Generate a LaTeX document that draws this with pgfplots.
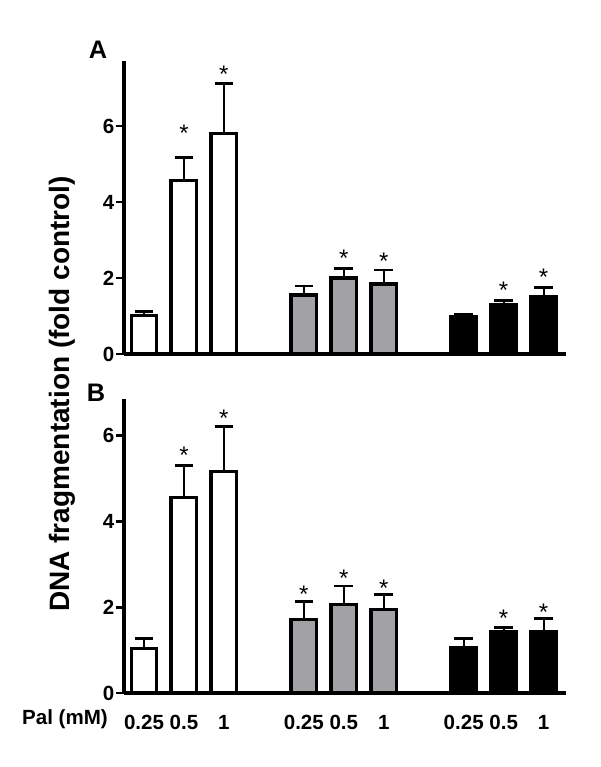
\documentclass[border=0pt]{standalone}
\usepackage{pgfplots}
\pgfplotsset{compat=1.18}
\usepackage{pgfplotstable}
\usepackage{fontspec}
\setmainfont{Liberation Sans}
\definecolor{bargray}{RGB}{162,162,166}

\pgfplotstableread{
x y e
0 1.02 0.09
1 4.57 0.59
2 5.80 1.33
}\Awhite
\pgfplotstableread{
x y e
4 1.55 0.24
5 2.00 0.26
6 1.84 0.37
}\Agray
\pgfplotstableread{
x y e
8 0.98 0.06
9 1.31 0.11
10 1.50 0.24
}\Ablack
\pgfplotstableread{
x y
1 5.95
2 7.50
5 2.68
6 2.58
9 1.84
10 2.16
}\Astar

\pgfplotstableread{
x y e
0 1.04 0.22
1 4.55 0.75
2 5.16 1.03
}\Bwhite
\pgfplotstableread{
x y e
4 1.71 0.41
5 2.06 0.43
6 1.95 0.35
}\Bgray
\pgfplotstableread{
x y e
8 1.06 0.20
9 1.43 0.10
10 1.43 0.31
}\Bblack
\pgfplotstableread{
x y
1 5.67
2 6.53
4 2.42
5 2.81
6 2.58
9 1.88
10 2.02
}\Bstar

\pgfplotsset{
  panel/.style={
    scale only axis, width=331.5pt, clip=false,
    xmin=-0.5, xmax=10.56, ymin=0,
    axis lines*=left,
    axis line style={line width=2.6pt, black},
    ytick={0,2,4,6},
    ytick pos=left, tick align=outside,
    major tick length=6pt,
    ytick style={line width=2.2pt, black},
    xtick style={draw=none},
    /pgf/number format/assume math mode=true,
    yticklabel style={font=\bfseries\fontsize{15.4pt}{18pt}\selectfont, inner sep=1pt},
    xticklabel style={font=\bfseries\fontsize{15.4pt}{18pt}\selectfont},
  },
  mybar/.style={ybar, bar width=0.64, bar shift=0pt, draw=black, line width=2.5pt,
    error bars/y dir=plus, error bars/y explicit,
    error bars/error bar style={line width=1.6pt, black},
    error bars/error mark options={rotate=90, line width=2.2pt, black, mark size=7pt}},
  stars/.style={draw=none, mark=none, nodes near coords={*},
    every node near coord/.append style={anchor=base, yshift=-10.5pt,
      font=\fontsize{18pt}{20pt}\selectfont, inner sep=0pt}},
}

\begin{document}
\begin{tikzpicture}
\useasboundingbox (0,0) rectangle (450pt,-575.25pt);

% Panel A
\begin{axis}[panel, at={(93pt,-265.5pt)}, anchor=south west, height=219.75pt,
  ymax=7.71, xtick=\empty]
\addplot[mybar, fill=white] table[x=x, y=y, y error=e] {\Awhite};
\addplot[mybar, fill=bargray] table[x=x, y=y, y error=e] {\Agray};
\addplot[mybar, fill=black] table[x=x, y=y, y error=e] {\Ablack};
\addplot[stars] table[x=x, y=y] {\Astar};
\end{axis}

% Panel B
\begin{axis}[panel, at={(93pt,-519.75pt)}, anchor=south west, height=220.5pt,
  ymax=6.84, xtick={0,1,2,4,5,6,8,9,10},
  xticklabels={0.25,0.5,1,0.25,0.5,1,0.25,0.5,1},
  xticklabel style={yshift=-7pt}]
\addplot[mybar, fill=white] table[x=x, y=y, y error=e] {\Bwhite};
\addplot[mybar, fill=bargray] table[x=x, y=y, y error=e] {\Bgray};
\addplot[mybar, fill=black] table[x=x, y=y, y error=e] {\Bblack};
\addplot[stars] table[x=x, y=y] {\Bstar};
\end{axis}

% Labels
\node[font=\bfseries\fontsize{19pt}{22pt}\selectfont] at (73.5pt,-37pt) {A};
\node[font=\bfseries\fontsize{19pt}{22pt}\selectfont] at (72pt,-294.75pt) {B};
\node[font=\bfseries\fontsize{21pt}{24pt}\selectfont, rotate=90] at (46.5pt,-295.5pt) {DNA fragmentation (fold control)};
\node[font=\bfseries\fontsize{15.4pt}{18pt}\selectfont, anchor=east, inner sep=0pt] at (81pt,-539.25pt) {Pal (mM)};
\end{tikzpicture}
\end{document}
